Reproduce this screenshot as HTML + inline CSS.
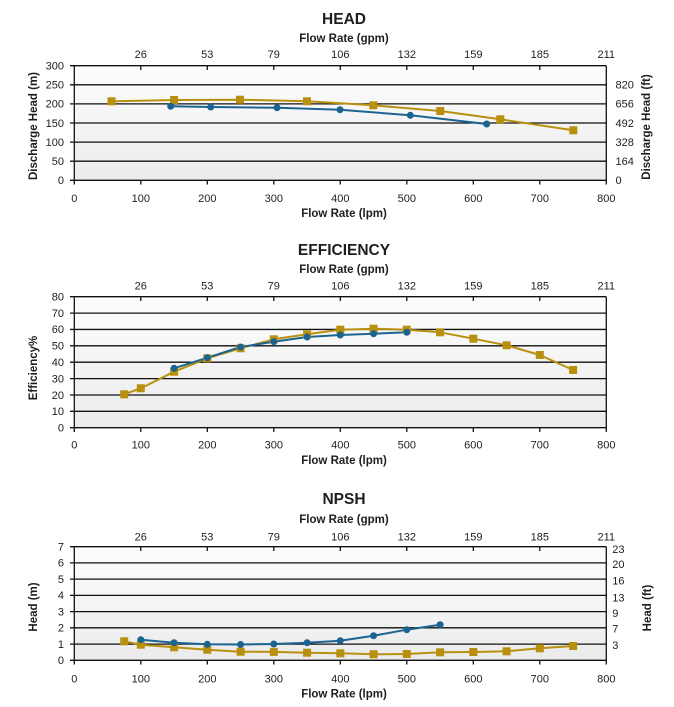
<!DOCTYPE html>
<html><head><meta charset="utf-8"><style>
html,body{margin:0;padding:0;background:#fff;}
svg{display:block;}
text{font-family:"Liberation Sans",Arial,sans-serif;fill:#1e1e1e;}
.t{font-size:15.5px;font-weight:bold;}
.ax{font-size:11.5px;font-weight:bold;}
.tk{font-size:11px;}
.g{stroke:#111;stroke-width:1.3;fill:none;}
.o{stroke:#B8900E;stroke-width:2;fill:none;stroke-linejoin:round;}
.b{stroke:#1B6492;stroke-width:2;fill:none;stroke-linejoin:round;}
</style></head><body>
<svg width="674" height="707" viewBox="0 0 674 707" xmlns="http://www.w3.org/2000/svg">
<defs>
<linearGradient id="bg" x1="0" y1="0" x2="0" y2="1">
<stop offset="0" stop-color="#fdfdfd"/><stop offset="1" stop-color="#ebebeb"/>
</linearGradient>
<rect id="sq" x="-4" y="-4" width="8" height="8" fill="#B8900E"/>
<circle id="ci" r="3.5" fill="#1B6492"/>
</defs>

<!-- ================= HEAD ================= -->
<text class="t" x="344" y="24" text-anchor="middle">HEAD</text>
<text class="ax" x="344" y="42" text-anchor="middle">Flow Rate (gpm)</text>
<g class="tk" text-anchor="middle">
<text x="140.8" y="58">26</text><text x="207.3" y="58">53</text><text x="273.8" y="58">79</text><text x="340.3" y="58">106</text><text x="406.8" y="58">132</text><text x="473.3" y="58">159</text><text x="539.8" y="58">185</text><text x="606.3" y="58">211</text>
</g>
<rect x="74.3" y="65.7" width="532" height="114.6" fill="url(#bg)"/>
<g class="g">
<path d="M74.3 65.7H606.3M70 84.8H606.3M70 103.9H606.3M70 123H606.3M70 142.1H606.3M70 161.2H606.3M70 180.3H606.3M70 65.7H74.3"/>
<path d="M74.3 65.7V184.5M606.3 65.7V184.5"/>
<path d="M140.8 180.3V184.5M207.3 180.3V184.5M273.8 180.3V184.5M340.3 180.3V184.5M406.8 180.3V184.5M473.3 180.3V184.5M539.8 180.3V184.5"/>
<path d="M140.8 65.7V70M207.3 65.7V70M273.8 65.7V70M340.3 65.7V70M406.8 65.7V70M473.3 65.7V70M539.8 65.7V70"/>
</g>
<g class="tk" text-anchor="end">
<text x="64" y="69.5">300</text><text x="64" y="88.6">250</text><text x="64" y="107.7">200</text><text x="64" y="126.8">150</text><text x="64" y="145.9">100</text><text x="64" y="165">50</text><text x="64" y="184.1">0</text>
</g>
<g class="tk">
<text x="615.5" y="88.6">820</text><text x="615.5" y="107.7">656</text><text x="615.5" y="126.8">492</text><text x="615.5" y="145.9">328</text><text x="615.5" y="165">164</text><text x="615.5" y="184.1">0</text>
</g>
<g class="tk" text-anchor="middle">
<text x="74.3" y="202">0</text><text x="140.8" y="202">100</text><text x="207.3" y="202">200</text><text x="273.8" y="202">300</text><text x="340.3" y="202">400</text><text x="406.8" y="202">500</text><text x="473.3" y="202">600</text><text x="539.8" y="202">700</text><text x="606.3" y="202">800</text>
</g>
<text class="ax" x="344" y="217" text-anchor="middle">Flow Rate (lpm)</text>
<text class="ax" transform="translate(37,126) rotate(-90)" text-anchor="middle">Discharge Head (m)</text>
<text class="ax" transform="translate(650,127) rotate(-90)" text-anchor="middle">Discharge Head (ft)</text>
<polyline class="o" points="111.5,101.3 174.1,100 240,99.7 307,101.3 373.3,105.3 440.3,111 500.3,119.3 573.3,130.3"/>
<polyline class="b" points="170.7,106.3 210.7,107 277,107.7 340,109.7 410.3,115.3 486.7,124"/>
<g>
<use href="#sq" x="111.5" y="101.3"/><use href="#sq" x="174.1" y="100"/><use href="#sq" x="240" y="99.7"/><use href="#sq" x="307" y="101.3"/><use href="#sq" x="373.3" y="105.3"/><use href="#sq" x="440.3" y="111"/><use href="#sq" x="500.3" y="119.3"/><use href="#sq" x="573.3" y="130.3"/>
<use href="#ci" x="170.7" y="106.3"/><use href="#ci" x="210.7" y="107"/><use href="#ci" x="277" y="107.7"/><use href="#ci" x="340" y="109.7"/><use href="#ci" x="410.3" y="115.3"/><use href="#ci" x="486.7" y="124"/>
</g>

<!-- ================= EFFICIENCY ================= -->
<text class="t" x="344" y="255" text-anchor="middle">EFFICIENCY</text>
<text class="ax" x="344" y="273" text-anchor="middle">Flow Rate (gpm)</text>
<g class="tk" text-anchor="middle">
<text x="140.8" y="289.5">26</text><text x="207.3" y="289.5">53</text><text x="273.8" y="289.5">79</text><text x="340.3" y="289.5">106</text><text x="406.8" y="289.5">132</text><text x="473.3" y="289.5">159</text><text x="539.8" y="289.5">185</text><text x="606.3" y="289.5">211</text>
</g>
<rect x="74.3" y="296.7" width="532" height="131" fill="url(#bg)"/>
<g class="g">
<path d="M70 296.7H606.3M70 313.1H606.3M70 329.45H606.3M70 345.8H606.3M70 362.2H606.3M70 378.6H606.3M70 395H606.3M70 411.3H606.3M70 427.7H606.3"/>
<path d="M74.3 296.7V432M606.3 296.7V432"/>
<path d="M140.8 427.7V432M207.3 427.7V432M273.8 427.7V432M340.3 427.7V432M406.8 427.7V432M473.3 427.7V432M539.8 427.7V432"/>
<path d="M140.8 296.7V301M207.3 296.7V301M273.8 296.7V301M340.3 296.7V301M406.8 296.7V301M473.3 296.7V301M539.8 296.7V301"/>
</g>
<g class="tk" text-anchor="end">
<text x="64" y="300.5">80</text><text x="64" y="316.9">70</text><text x="64" y="333.2">60</text><text x="64" y="349.6">50</text><text x="64" y="366">40</text><text x="64" y="382.4">30</text><text x="64" y="398.8">20</text><text x="64" y="415.1">10</text><text x="64" y="431.5">0</text>
</g>
<g class="tk" text-anchor="middle">
<text x="74.3" y="448.5">0</text><text x="140.8" y="448.5">100</text><text x="207.3" y="448.5">200</text><text x="273.8" y="448.5">300</text><text x="340.3" y="448.5">400</text><text x="406.8" y="448.5">500</text><text x="473.3" y="448.5">600</text><text x="539.8" y="448.5">700</text><text x="606.3" y="448.5">800</text>
</g>
<text class="ax" x="344" y="464" text-anchor="middle">Flow Rate (lpm)</text>
<text class="ax" transform="translate(37,368) rotate(-90)" text-anchor="middle">Efficiency%</text>
<polyline class="o" points="124.2,394.3 140.8,388.3 174.1,371.7 207.3,358.3 240.6,348.3 273.8,339.3 307.1,334.3 340.3,329.7 373.6,328.7 406.8,329.7 440.1,332.3 473.3,338.7 506.6,345.3 539.8,355 573.1,370"/>
<polyline class="b" points="174.1,368.3 207.3,357.7 240.6,347 273.8,341.7 307.1,337 340.3,335 373.6,333.7 406.8,332.3"/>
<g>
<use href="#sq" x="124.2" y="394.3"/><use href="#sq" x="140.8" y="388.3"/><use href="#sq" x="174.1" y="371.7"/><use href="#sq" x="207.3" y="358.3"/><use href="#sq" x="240.6" y="348.3"/><use href="#sq" x="273.8" y="339.3"/><use href="#sq" x="307.1" y="334.3"/><use href="#sq" x="340.3" y="329.7"/><use href="#sq" x="373.6" y="328.7"/><use href="#sq" x="406.8" y="329.7"/><use href="#sq" x="440.1" y="332.3"/><use href="#sq" x="473.3" y="338.7"/><use href="#sq" x="506.6" y="345.3"/><use href="#sq" x="539.8" y="355"/><use href="#sq" x="573.1" y="370"/>
<use href="#ci" x="174.1" y="368.3"/><use href="#ci" x="207.3" y="357.7"/><use href="#ci" x="240.6" y="347"/><use href="#ci" x="273.8" y="341.7"/><use href="#ci" x="307.1" y="337"/><use href="#ci" x="340.3" y="335"/><use href="#ci" x="373.6" y="333.7"/><use href="#ci" x="406.8" y="332.3"/>
</g>

<!-- ================= NPSH ================= -->
<text class="t" x="344" y="504" text-anchor="middle">NPSH</text>
<text class="ax" x="344" y="523" text-anchor="middle">Flow Rate (gpm)</text>
<g class="tk" text-anchor="middle">
<text x="140.8" y="540.5">26</text><text x="207.3" y="540.5">53</text><text x="273.8" y="540.5">79</text><text x="340.3" y="540.5">106</text><text x="406.8" y="540.5">132</text><text x="473.3" y="540.5">159</text><text x="539.8" y="540.5">185</text><text x="606.3" y="540.5">211</text>
</g>
<rect x="74.3" y="546.7" width="532" height="113.6" fill="url(#bg)"/>
<g class="g">
<path d="M70 546.7H606.3M70 562.9H606.3M70 579.15H606.3M70 595.4H606.3M70 611.6H606.3M70 627.8H606.3M70 644.1H606.3M70 660.3H606.3"/>
<path d="M74.3 546.7V664.5M606.3 546.7V664.5"/>
<path d="M140.8 660.3V664.5M207.3 660.3V664.5M273.8 660.3V664.5M340.3 660.3V664.5M406.8 660.3V664.5M473.3 660.3V664.5M539.8 660.3V664.5"/>
<path d="M140.8 546.7V551M207.3 546.7V551M273.8 546.7V551M340.3 546.7V551M406.8 546.7V551M473.3 546.7V551M539.8 546.7V551"/>
</g>
<g class="tk" text-anchor="end">
<text x="64" y="550.5">7</text><text x="64" y="566.7">6</text><text x="64" y="583">5</text><text x="64" y="599.2">4</text><text x="64" y="615.4">3</text><text x="64" y="631.6">2</text><text x="64" y="647.9">1</text><text x="64" y="664.1">0</text>
</g>
<g class="tk">
<text x="612.3" y="552.8">23</text><text x="612.3" y="567.8">20</text><text x="612.3" y="584.5">16</text><text x="612.3" y="601.5">13</text><text x="612.3" y="616.8">9</text><text x="612.3" y="632.5">7</text><text x="612.3" y="649.1">3</text>
</g>
<g class="tk" text-anchor="middle">
<text x="74.3" y="682.5">0</text><text x="140.8" y="682.5">100</text><text x="207.3" y="682.5">200</text><text x="273.8" y="682.5">300</text><text x="340.3" y="682.5">400</text><text x="406.8" y="682.5">500</text><text x="473.3" y="682.5">600</text><text x="539.8" y="682.5">700</text><text x="606.3" y="682.5">800</text>
</g>
<text class="ax" x="344" y="697.5" text-anchor="middle">Flow Rate (lpm)</text>
<text class="ax" transform="translate(37,607) rotate(-90)" text-anchor="middle">Head (m)</text>
<text class="ax" transform="translate(651,608) rotate(-90)" text-anchor="middle">Head (ft)</text>
<polyline class="o" points="124.2,641.3 140.8,644.7 174.1,647.3 207.3,649.7 240.6,651.7 273.8,651.9 307.1,652.7 340.3,653.3 373.6,654.3 406.8,654 440.1,652.3 473.3,652 506.6,651.3 539.8,648.3 573.1,646"/>
<polyline class="b" points="140.8,639.7 174.1,642.7 207.3,644.3 240.6,644.5 273.8,644 307.1,642.7 340.3,640.7 373.6,635.7 406.8,629.7 440.1,624.7"/>
<g>
<use href="#sq" x="124.2" y="641.3"/><use href="#sq" x="140.8" y="644.7"/><use href="#sq" x="174.1" y="647.3"/><use href="#sq" x="207.3" y="649.7"/><use href="#sq" x="240.6" y="651.7"/><use href="#sq" x="273.8" y="651.9"/><use href="#sq" x="307.1" y="652.7"/><use href="#sq" x="340.3" y="653.3"/><use href="#sq" x="373.6" y="654.3"/><use href="#sq" x="406.8" y="654"/><use href="#sq" x="440.1" y="652.3"/><use href="#sq" x="473.3" y="652"/><use href="#sq" x="506.6" y="651.3"/><use href="#sq" x="539.8" y="648.3"/><use href="#sq" x="573.1" y="646"/>
<use href="#ci" x="140.8" y="639.7"/><use href="#ci" x="174.1" y="642.7"/><use href="#ci" x="207.3" y="644.3"/><use href="#ci" x="240.6" y="644.5"/><use href="#ci" x="273.8" y="644"/><use href="#ci" x="307.1" y="642.7"/><use href="#ci" x="340.3" y="640.7"/><use href="#ci" x="373.6" y="635.7"/><use href="#ci" x="406.8" y="629.7"/><use href="#ci" x="440.1" y="624.7"/>
</g>
</svg>
</body></html>
